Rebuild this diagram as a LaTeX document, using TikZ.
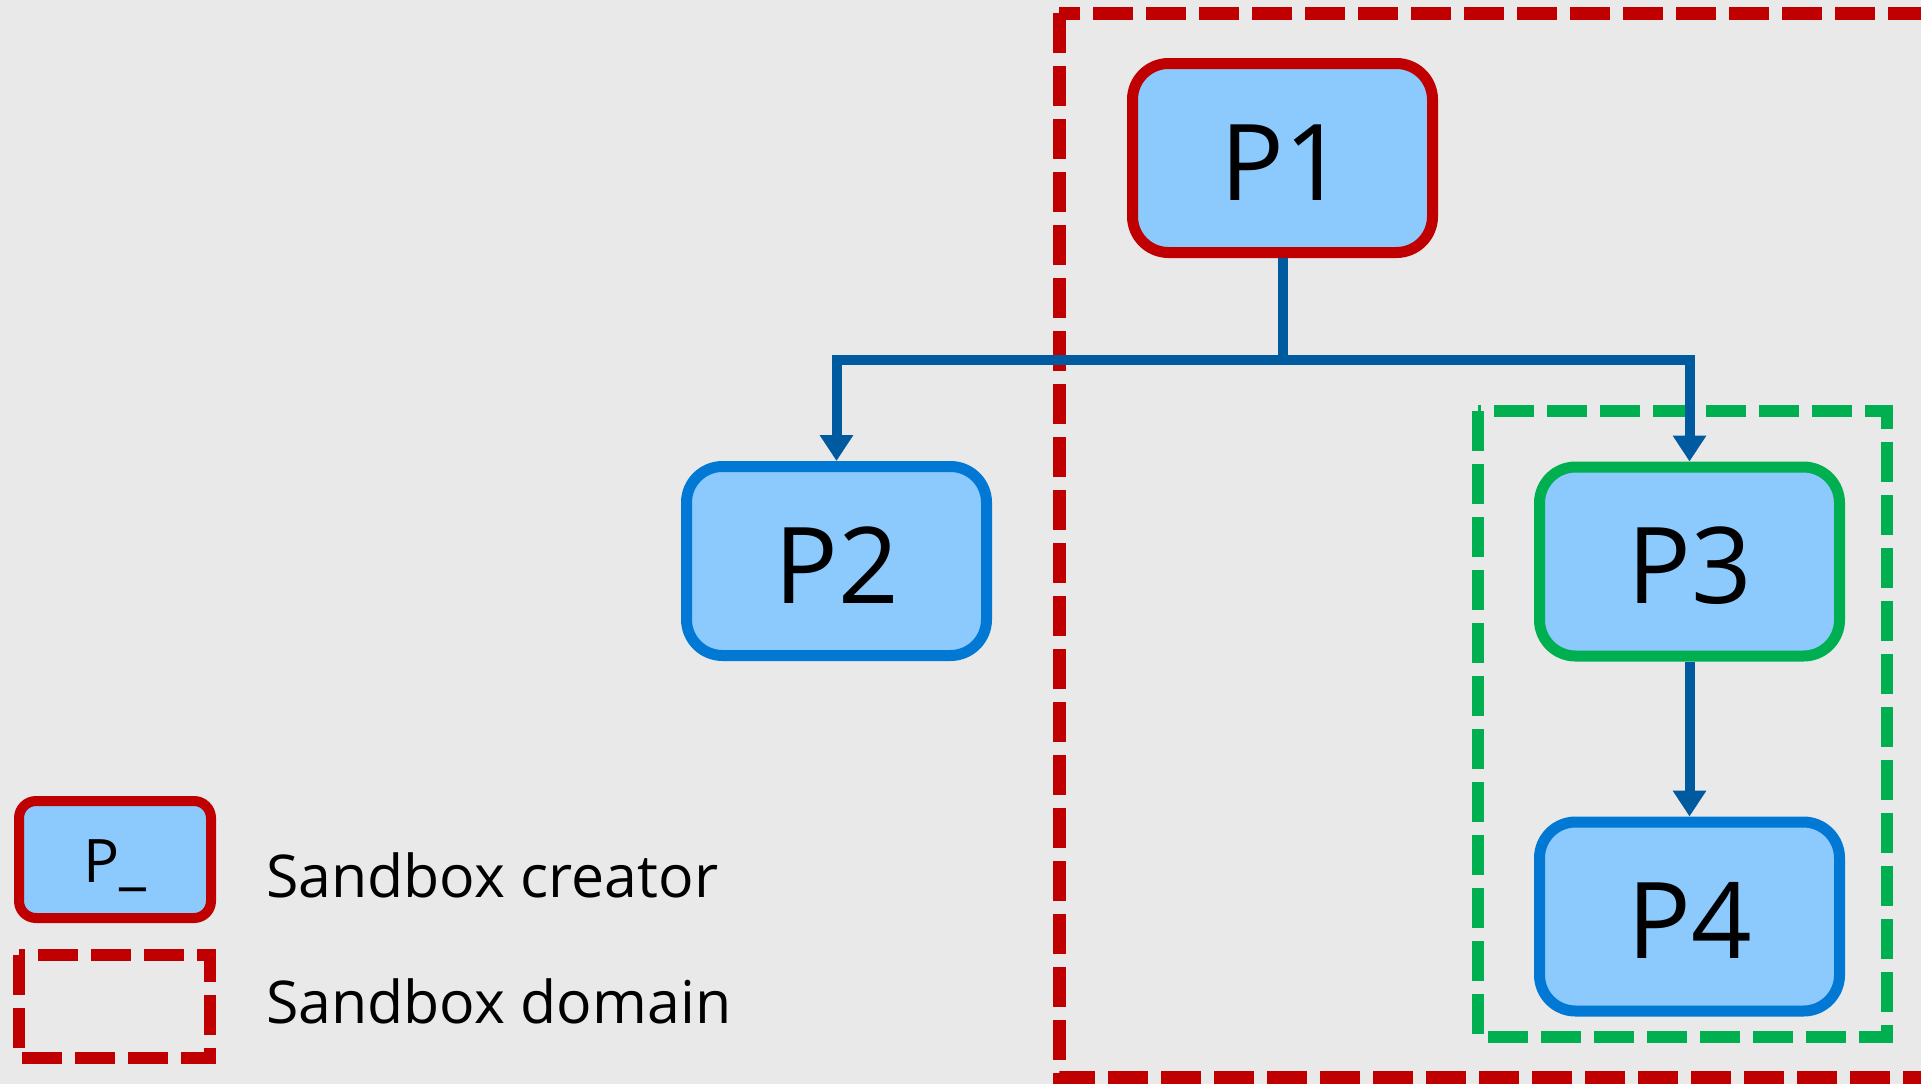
\documentclass[tikz,border=0pt]{standalone}
\usepackage{fontspec}
\setmainfont{Open Sans}
\usetikzlibrary{arrows.meta}
\definecolor{bg}{RGB}{233,233,233}
\definecolor{boxfill}{RGB}{140,201,252}
\definecolor{sbred}{RGB}{192,0,0}
\definecolor{sbblue}{RGB}{0,120,212}
\definecolor{sbgreen}{RGB}{0,176,80}
\definecolor{connblue}{RGB}{0,90,160}
\tikzset{
  proc/.style={draw, fill=boxfill, line width=11pt, rounded corners=36pt,
    minimum width=300pt, minimum height=189pt, inner sep=0pt,
    text height=84pt, text depth=0pt,
    font=\fontsize{106}{110}\selectfont},
  conn/.style={draw=connblue, line width=10pt, -{Triangle[width=32pt,length=26pt]}},
  connline/.style={draw=connblue, line width=10pt},
  sbdomain/.style={line width=13pt, dash pattern=on 40pt off 13pt},
  legtext/.style={anchor=base west, inner sep=0pt, font=\fontsize{59}{62}\selectfont}
}
\begin{document}
\begin{tikzpicture}[x=1pt,y=-1pt]
\fill[bg] (0,0) rectangle (1921,1084);
\useasboundingbox (0,0) rectangle (1921,1084);
% domains
\draw[sbdomain, sbred] (1059,13) rectangle (1940,1077);
\draw[sbdomain, sbgreen, line width=12pt] (1478,411) rectangle (1887,1037);
% processes
\node[proc, draw=sbred] (p1) at (1282.5,158) {P1};
\node[proc, draw=sbblue] (p2) at (836.5,561) {P2};
\node[proc, draw=sbgreen] (p3) at (1689.5,561.5) {P3};
\node[proc, draw=sbblue] (p4) at (1689.5,916.5) {P4};
% connectors
\coordinate (j) at (1282.5,360);
\draw[connline] (p1.south) -- ([yshift=3pt]j);
\draw[conn] (j) -| (p2.north);
\draw[conn] (j) -| (p3.north);
\draw[conn] (p3.south) -- (p4.north);
% legend
\node[proc, draw=sbred, line width=10pt, rounded corners=17pt, minimum width=192pt,
  minimum height=117pt, text height=46pt, font=\fontsize{60}{62}\selectfont] (leg1) at (115,859.5) {P\_};
\draw[sbdomain, sbred, line width=12pt] (18.5,955) rectangle (210,1058);
\node[legtext] (t1) at (266,897) {Sandbox creator};
\node[legtext] (t2) at (266,1023) {Sandbox domain};
\end{tikzpicture}
\end{document}
